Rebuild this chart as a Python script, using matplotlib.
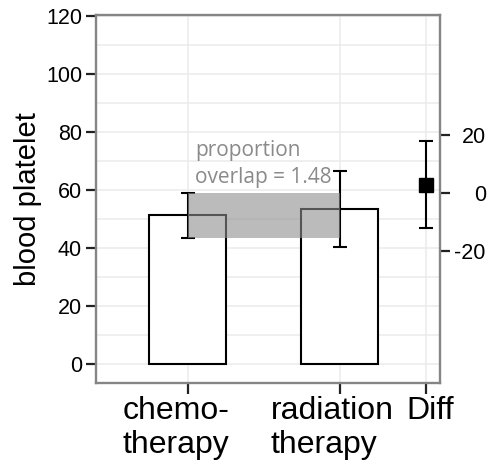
import matplotlib
matplotlib.use('Agg')
import matplotlib.pyplot as plt
from matplotlib.transforms import ScaledTranslation

plt.rcParams['font.family'] = ['Liberation Sans', 'DejaVu Sans']
plt.rcParams['axes.unicode_minus'] = False

# group means with their 95% intervals
groups = ['chemo-\ntherapy', 'radiation\ntherapy']
means = [51.4, 53.3]
ci_lo = [43.6, 40.2]
ci_hi = [59.1, 66.6]

# difference between groups, on the right-hand scale
diff_label = 'Diff'
diff = 2.5
diff_lo = -12.3
diff_hi = 17.8

overlap_text = 'proportion\noverlap = 1.48'

pos = [1, 2]
diff_pos = 2.565
# right axis zero sits at the upper limit of the first group
offset = ci_hi[0]

fig = plt.figure(figsize=(4.88, 4.71), dpi=100)
ax = fig.add_axes([0.1967, 0.1868, 0.7049, 0.7814])

ax.set_xlim(0.398, 2.657)
ax.set_ylim(-6.55, 120.3)
ax.set_axisbelow(True)

# bars
ax.bar(pos, means, width=0.505, color='white', edgecolor='black', linewidth=1.5, zorder=2)
err = [[m - lo for m, lo in zip(means, ci_lo)], [hi - m for m, hi in zip(means, ci_hi)]]
ax.errorbar(pos, means, yerr=err, fmt='none', ecolor='black', elinewidth=1.5,
            capsize=5, capthick=1.5, zorder=3)

# shaded band spanning the first group's interval
ax.fill_between([pos[0], pos[1]], ci_lo[0], ci_hi[0], color='#8f8f8f', alpha=0.6,
                linewidth=0, zorder=4)
ax.text(1.048, 62.5, overlap_text, fontsize=15, color='#8a8a8a', family='Open Sans',
        ha='left', va='baseline', linespacing=1.38, zorder=5)

# difference point on the shifted scale
ax.errorbar([diff_pos], [diff + offset], yerr=[[diff - diff_lo], [diff_hi - diff]],
            fmt='s', color='black', markersize=10, elinewidth=1.5, capsize=5,
            capthick=1.5, zorder=3)

# grid and axes styling
ax.set_yticks(range(0, 121, 20))
ax.set_yticks(range(10, 120, 20), minor=True)
ax.set_xticks(pos + [diff_pos])
ax.set_xticklabels(groups + [diff_label])
ax.grid(True, which='both', color='#ebebeb', linewidth=1.1)
ax.tick_params(axis='y', which='minor', length=0)
ax.tick_params(axis='y', which='major', labelsize=15.5, length=7, width=1.6,
               color='#222222', pad=3)
ax.tick_params(axis='x', labelsize=23, length=8, width=1.6, color='#222222', pad=1)
shifts = [-8.5, -5.4, 2.9]
for lab, dx in zip(ax.get_xticklabels(), shifts):
    lab.set_multialignment('left')
    lab.set_transform(lab.get_transform() + ScaledTranslation(dx / 72, 0, fig.dpi_scale_trans))

for sp in ax.spines.values():
    sp.set_color('#858585')
    sp.set_linewidth(1.7)

ax.set_ylabel('blood platelet', fontsize=21, labelpad=3)

sec = ax.secondary_yaxis('right', functions=(lambda y: y - offset, lambda y: y + offset))
sec.set_yticks([-20, 0, 20])
sec.spines['right'].set_visible(False)
sec.tick_params(labelsize=15.5, length=7, width=1.6, color='#222222', pad=26)
for lab in sec.get_yticklabels():
    lab.set_ha('right')

fig.savefig('out.png', dpi=100)
